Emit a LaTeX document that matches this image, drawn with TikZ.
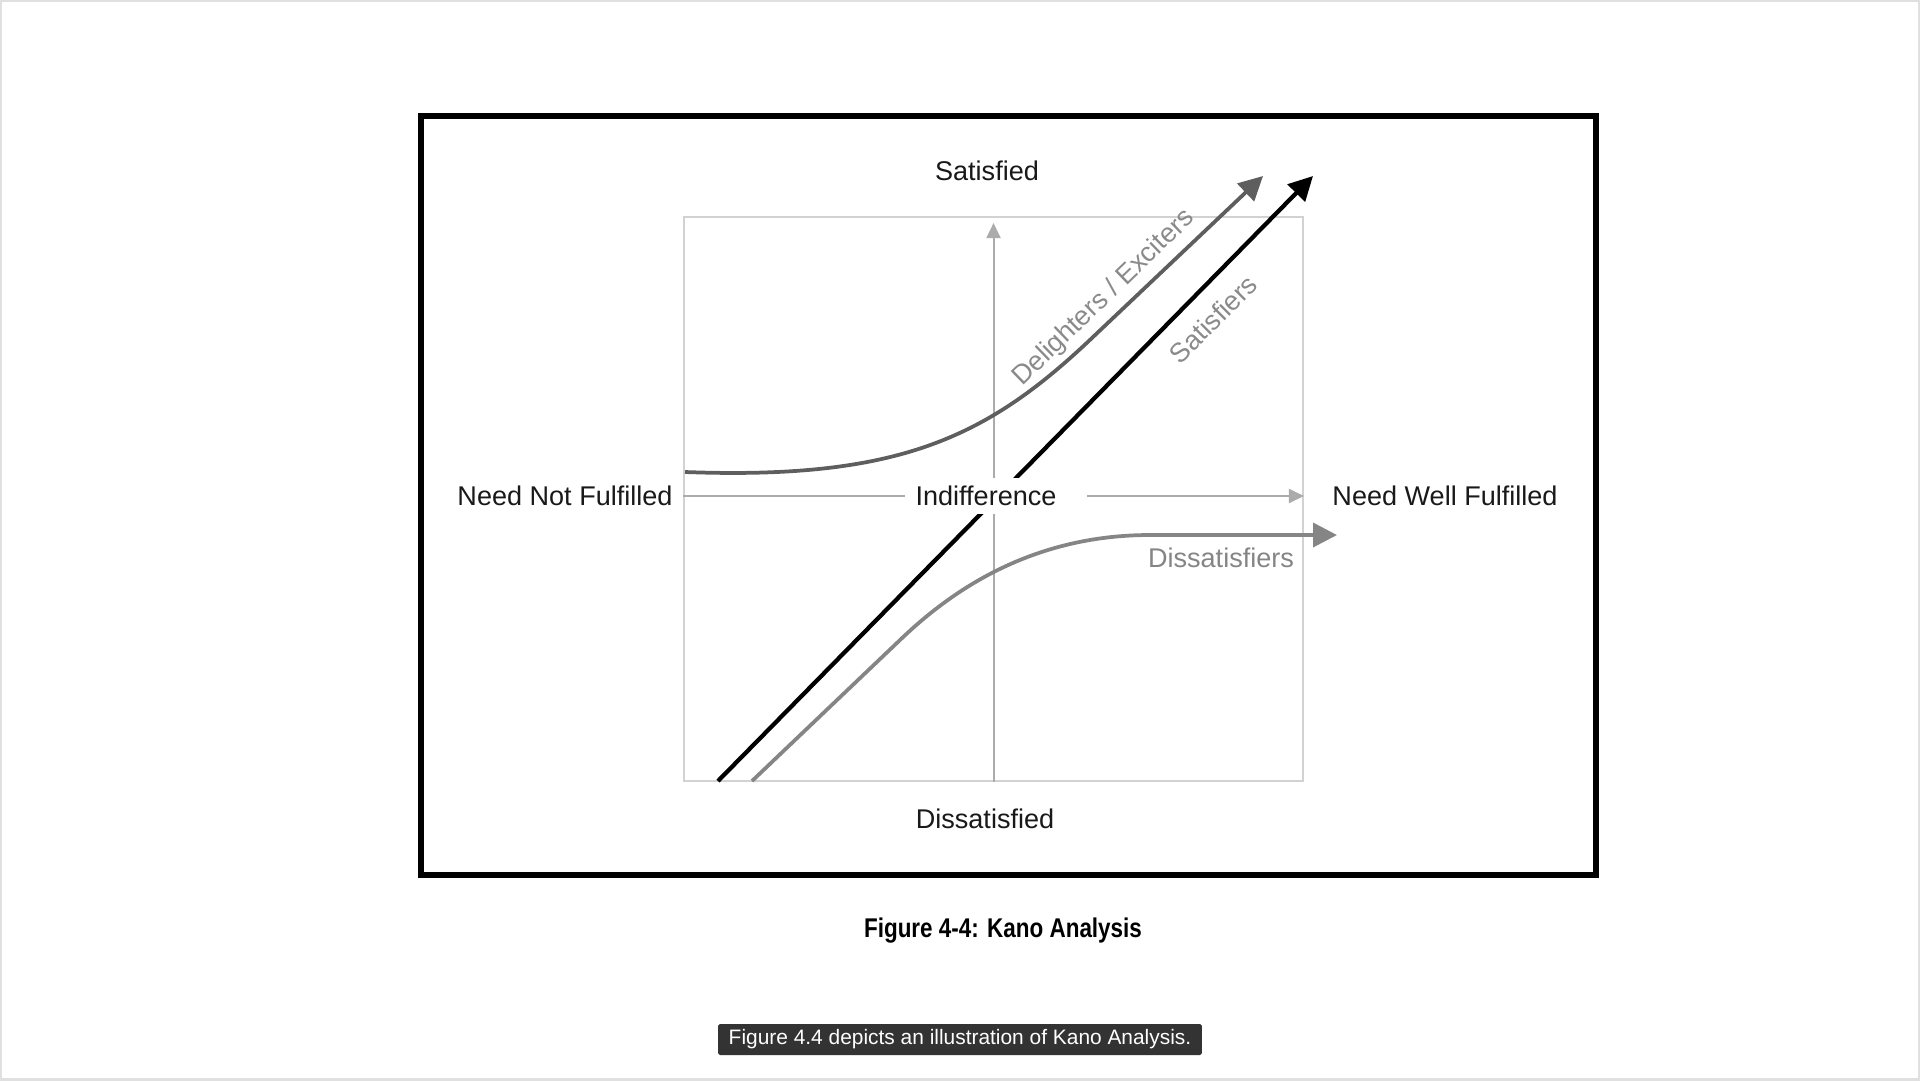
\documentclass[tikz,border=0pt]{standalone}
\usepackage{fontspec}
\setmainfont{Liberation Sans}
\usetikzlibrary{arrows.meta}
\definecolor{axisgray}{HTML}{ABABAB}
\definecolor{framegray}{HTML}{D2D2D2}
\definecolor{delgray}{HTML}{5E5E5E}
\definecolor{disgray}{HTML}{858585}
\definecolor{txtgray}{HTML}{8A8A8A}
\definecolor{capbox}{HTML}{333333}
\begin{document}
\begin{tikzpicture}[x=0.02cm, y=-0.02cm,
  lbl/.style={font=\fontsize{15.4}{18}\selectfont, text=black!90, inner sep=0pt},
  curvelbl/.style={font=\fontsize{15.4}{18}\selectfont, text=txtgray, inner sep=0pt},
  bigtip/.style={-{Triangle[length=0.48cm, width=0.48cm]}},
  smalltip/.style={-{Triangle[length=0.3cm, width=0.28cm]}}]
\useasboundingbox (0,0) rectangle (1920,1080);
\draw[black!12, line width=2pt] (0,0) rectangle (1920,1080);
% outer frame and plot area
\draw[line width=0.12cm] (421,116) rectangle (1596,875);
\node[draw=framegray, line width=0.04cm, minimum width=12.38cm, minimum height=11.28cm, inner sep=0pt] (frame) at (993.5,499) {};
\draw[axisgray, line width=0.04cm, smalltip, shorten >=0.14cm] (frame.south) -- (frame.north);
% satisfiers line (drawn before the indifference label covers it)
\coordinate (s0) at (718,781);
\coordinate (stip) at (1313,176);
\draw[black, line width=0.085cm, bigtip] (s0) -- (stip);
% labels
\node[lbl] (sat) at (987,171) {Satisfied};
\node[lbl] (dis) at (985,819) {Dissatisfied};
\node[lbl] (nnf) at (565,496) {Need Not Fulfilled};
\node[lbl] (nwf) at (1445,496) {Need Well Fulfilled};
\node[lbl, fill=white, inner xsep=0.2cm, inner ysep=0.16cm] (ind) at (986,496) {Indifference};
\coordinate (indr) at (1087,496);
\draw[axisgray, line width=0.04cm] (frame.west |- ind) -- (ind.west);
\draw[axisgray, line width=0.04cm, smalltip] (indr) -- (frame.east |- ind);
% delighters / exciters
\coordinate (d0) at (685,472);
\coordinate (d1) at (1093,337);
\coordinate (dtip) at (1263,176);
\draw[delgray, line width=0.075cm, bigtip] (d0) .. controls (900,480) and (988,437) .. (d1) -- (dtip);
% dissatisfiers
\coordinate (q0) at (752,781);
\coordinate (q1) at (900,640);
\coordinate (q2) at (1150,535);
\coordinate (qtip) at (1337,535);
\draw[disgray, line width=0.075cm, bigtip] (q0) -- (q1) .. controls (950,592) and (1030,535) .. (q2) -- (qtip);
\node[curvelbl, rotate=44] (delt) at (1104,298) {Delighters / Exciters};
\node[curvelbl, rotate=45] (satt) at (1213,319) {Satisfiers};
\node[curvelbl, text=disgray] (dist) at (1221,558) {Dissatisfiers};
% captions
\node[font=\fontsize{15.4}{18}\selectfont\bfseries, text=black, inner sep=0pt] (fig) at (1003,931) {\scalebox{0.83}[1]{Figure 4-4: Kano Analysis}};
\node[fill=capbox, text=white, font=\fontsize{11.9}{14}\selectfont, rounded corners=1pt, minimum width=9.68cm, minimum height=0.62cm, inner sep=0pt] (cap) at (960,1039.5) {Figure 4.4 depicts an illustration of Kano Analysis.};
\end{tikzpicture}
\end{document}
